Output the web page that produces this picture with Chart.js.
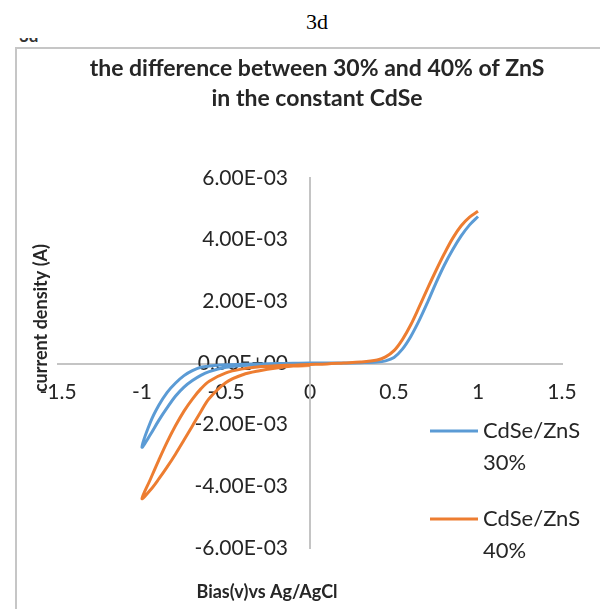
<!DOCTYPE html>
<html>
<head>
<meta charset="utf-8">
<title>3d</title>
<script src="https://cdn.jsdelivr.net/npm/chart.js@4.4.1/dist/chart.umd.min.js"></script>
<style>
    html, body { margin: 0; padding: 0; background: #fff; }
    body { position: relative; width: 600px; height: 609px; overflow: hidden; }
    #caption {
        position: absolute; left: 0; top: 9px; width: 634px;
        text-align: center; font-family: "Liberation Serif", serif; font-size: 22px; color: #000;
    }
    #cut { position: absolute; left: 19px; top: 38px; width: 30px; height: 5px; overflow: hidden; }
    #cut span {
        position: absolute; left: 0; top: -13px;
        font-family: Lato, sans-serif; font-weight: bold; font-size: 17px; color: #333;
    }
    #frame {
        position: absolute; left: 15px; top: 47px; width: 620px; height: 600px;
        border-left: 2px solid #c6c6c6; border-top: 2px solid #c6c6c6;
    }
    #chartCanvas { position: absolute; left: 0; top: 0; }
</style>
</head>
<body>
<div id="caption">3d</div>
<div id="cut"><span>3d</span></div>
<div id="frame"></div>
<canvas id="chartCanvas" width="600" height="609"></canvas>

<script>
// Scan voltage (V vs Ag/AgCl): 1 V down to -1 V, then back up to 0 V
const biasV = [1.0, 0.95, 0.9, 0.85, 0.8, 0.75, 0.7, 0.65, 0.6, 0.55, 0.5, 0.45, 0.4, 0.3, 0.2, 0.1,
    0,
    -0.1, -0.2, -0.3, -0.4, -0.5, -0.6, -0.65, -0.7, -0.75, -0.8, -0.85, -0.9, -0.95, -1.0,
    -0.95, -0.9, -0.85, -0.8, -0.75, -0.7, -0.65, -0.6, -0.5, -0.4, -0.3, -0.2, -0.1, 0];

// Current density, in mA
const current30mA = [4.75, 4.48, 4.12, 3.68, 3.18, 2.6, 1.97, 1.38, 0.86, 0.45, 0.18, 0.07, 0.03, 0.01, 0.0, 0.0,
    0.0,
    -0.01, -0.02, -0.03, -0.04, -0.06, -0.1, -0.14, -0.25, -0.41, -0.65, -0.95, -1.37, -1.92, -2.73,
    -2.32, -1.86, -1.45, -1.07, -0.78, -0.57, -0.4, -0.28, -0.14, -0.08, -0.05, -0.03, -0.02, -0.01];

const current40mA = [4.92, 4.73, 4.45, 4.05, 3.55, 3.0, 2.42, 1.82, 1.24, 0.76, 0.4, 0.2, 0.1, 0.03, 0.0, -0.03,
    -0.05,
    -0.07, -0.09, -0.12, -0.19, -0.32, -0.59, -0.84, -1.17, -1.56, -2.03, -2.56, -3.15, -3.77, -4.4,
    -4.12, -3.76, -3.37, -2.95, -2.5, -2.04, -1.58, -1.15, -0.63, -0.38, -0.25, -0.16, -0.1, -0.08];

const seriesNames = [['CdSe/ZnS', '30%'], ['CdSe/ZnS', '40%']];
const seriesColors = ['#5b9bd5', '#ed7d31'];

const xTickValues = [-1.5, -1, -0.5, 0, 0.5, 1, 1.5];
const xTickLabels = ['-1.5', '-1', '-0.5', '0', '0.5', '1', '1.5'];
const yTickValues = [-6e-3, -4e-3, -2e-3, 0, 2e-3, 4e-3, 6e-3];
const yTickLabels = ['-6.00E-03', '-4.00E-03', '-2.00E-03', '0.00E+00', '2.00E-03', '4.00E-03', '6.00E-03'];

const titleLines = ['the difference between 30% and 40% of ZnS', 'in the constant CdSe'];
const xAxisTitle = 'Bias(v)vs Ag/AgCl';
const yAxisTitle = 'current density (A)';

const FONT = 'Lato, "Open Sans", sans-serif';
const TEXT_COLOR = '#262626';

function toPoints(currents) {
    return biasV.map((v, i) => ({ x: v, y: currents[i] / 1000 }));
}

/**
 * Draws the title, axis titles and the two-line legend the way the sheet shows them
 */
const sheetDecor = {
    id: 'sheetDecor',
    afterDraw(chart) {
        const ctx = chart.ctx;
        ctx.save();
        ctx.fillStyle = TEXT_COLOR;
        ctx.textBaseline = 'middle';

        // chart title
        ctx.textAlign = 'center';
        ctx.font = 'bold 23px ' + FONT;
        titleLines.forEach((line, i) => ctx.fillText(line, 317, 69 + i * 30));

        // axis titles
        ctx.font = 'bold 18px ' + FONT;
        ctx.fillText(xAxisTitle, 267, 592);
        ctx.save();
        ctx.translate(41, 318);
        ctx.rotate(-Math.PI / 2);
        ctx.fillText(yAxisTitle, 0, 0);
        ctx.restore();

        // legend
        ctx.textAlign = 'left';
        ctx.font = '22px ' + FONT;
        const rows = [431, 519];
        chart.data.datasets.forEach((ds, i) => {
            const y = rows[i];
            ctx.strokeStyle = ds.borderColor;
            ctx.lineWidth = 3;
            ctx.beginPath();
            ctx.moveTo(430, y);
            ctx.lineTo(478, y);
            ctx.stroke();
            seriesNames[i].forEach((t, k) => ctx.fillText(t, 483, y + k * 32));
        });
        ctx.restore();
    }
};

const ctx = document.getElementById('chartCanvas').getContext('2d');

// both ranges are symmetric, so 'center' puts each axis through zero
const chart = new Chart(ctx, {
    type: 'line',
    data: {
        datasets: [
            {
                label: seriesNames[0].join(' '),
                data: toPoints(current30mA),
                borderColor: seriesColors[0],
                order: 1
            },
            {
                label: seriesNames[1].join(' '),
                data: toPoints(current40mA),
                borderColor: seriesColors[1],
                order: 0
            }
        ]
    },
    options: {
        responsive: false,
        animation: false,
        devicePixelRatio: 1,
        elements: {
            point: { radius: 0, hoverRadius: 0 },
            line: { borderWidth: 3, tension: 0.35, fill: false, capBezierPoints: true }
        },
        layout: {
            padding: { left: 58, right: 38, top: 178, bottom: 61 }
        },
        plugins: {
            legend: { display: false },
            title: { display: false },
            tooltip: { enabled: false }
        },
        scales: {
            x: {
                type: 'linear',
                position: 'center',
                min: -1.5,
                max: 1.5,
                afterBuildTicks: axis => { axis.ticks = xTickValues.map(v => ({ value: v })); },
                grid: { display: false },
                border: { display: true, color: '#c4c4c4', width: 2 },
                ticks: {
                    autoSkip: false,
                    maxRotation: 0,
                    padding: 9,
                    color: TEXT_COLOR,
                    font: { family: FONT, size: 21 },
                    callback: (value, index) => xTickLabels[index]
                }
            },
            y: {
                type: 'linear',
                position: 'center',
                min: -6e-3,
                max: 6e-3,
                afterBuildTicks: axis => { axis.ticks = yTickValues.map(v => ({ value: v })); },
                grid: { display: false },
                border: { display: true, color: '#c4c4c4', width: 2 },
                ticks: {
                    autoSkip: false,
                    padding: 14,
                    color: TEXT_COLOR,
                    font: { family: FONT, size: 21 },
                    callback: (value, index) => yTickLabels[index]
                }
            }
        }
    },
    plugins: [sheetDecor]
});
</script>
</body>
</html>
